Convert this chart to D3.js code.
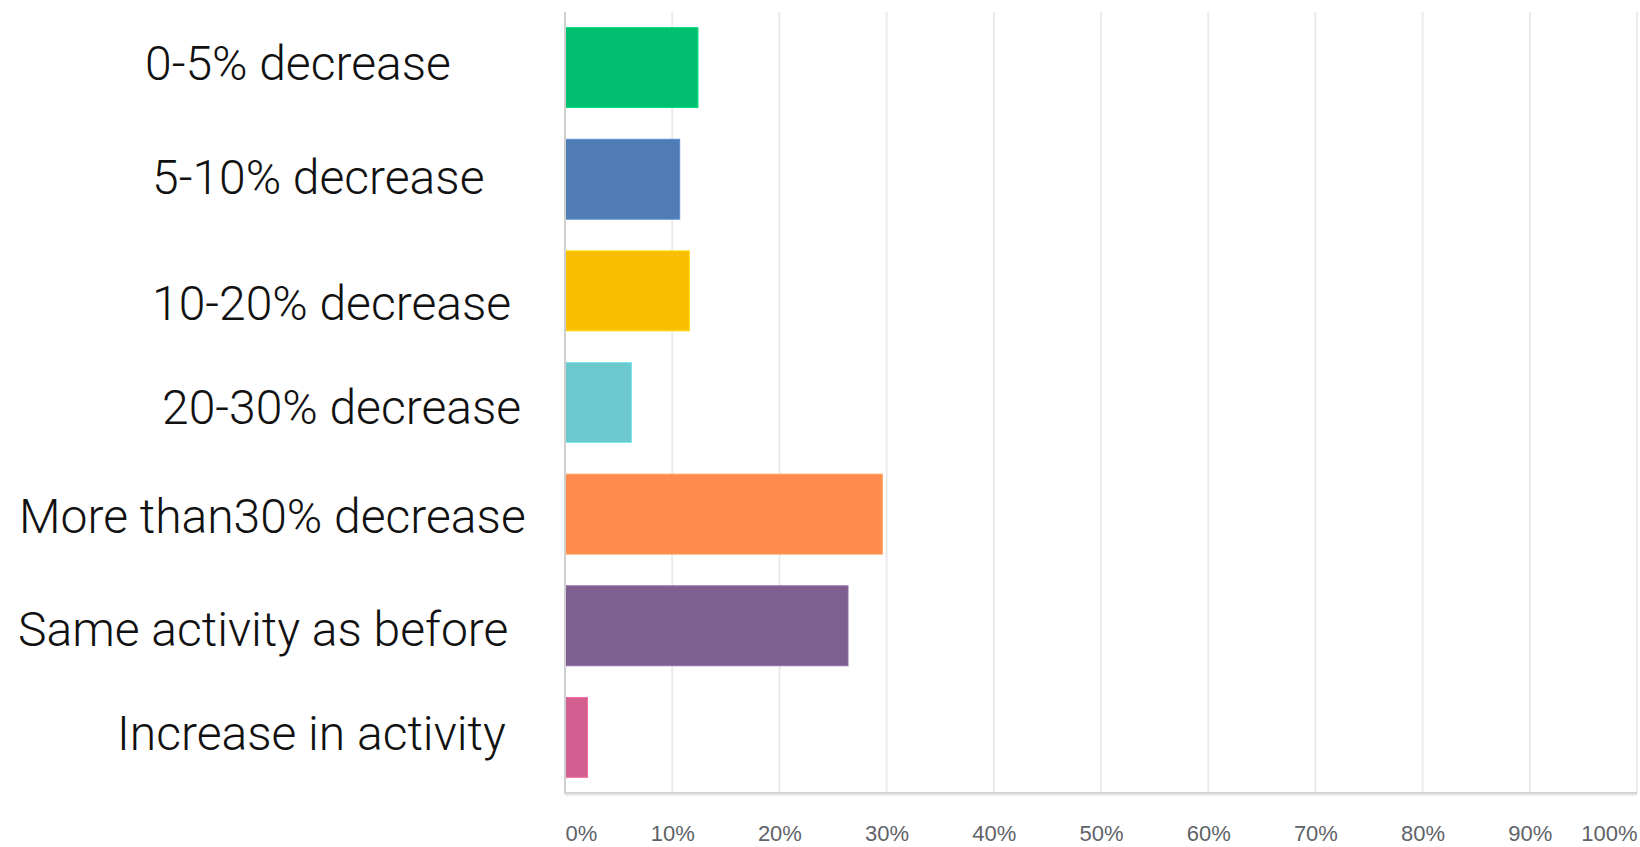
<!DOCTYPE html>
<html>
<head>
<meta charset="utf-8">
<script src="https://cdn.jsdelivr.net/npm/d3@7"></script>
<style>
  html, body { margin: 0; padding: 0; background: #fff; }
  .cat-label { font-family: Roboto, "Noto Sans", sans-serif; font-weight: 300; font-size: 48px; fill: #111; }
  .tick-label { font-family: "Liberation Sans", Arial, sans-serif; font-size: 22px; fill: #5f6368; }
</style>
</head>
<body>
<div id="chart"></div>
<script>
// answers, top to bottom
var categories = [
    "0-5% decrease",
    "5-10% decrease",
    "10-20% decrease",
    "20-30% decrease",
    "More than30% decrease",
    "Same activity as before",
    "Increase in activity"
];
// share of responses, in percent
var values = [12.4, 10.7, 11.6, 6.2, 29.6, 26.4, 2.1];
var barColors = ['#00bf6f', '#507cb6', '#f9be00', '#6bc8cd', '#ff8b4f', '#7f5f90', '#d25f90'];
var tickValues = [0, 10, 20, 30, 40, 50, 60, 70, 80, 90, 100];

// label placement, the labels in the picture are not lined up
var labelLeft = [145, 152, 152, 162, 19, 18, 117];
var labelDy = [12, 15, 29, 21, 19, 20, 13];

var width = 1640, height = 847;
var plotLeft = 565, plotRight = 1637, plotTop = 12, plotBottom = 793;

var svg = d3.select("#chart").append("svg")
    .attr("width", width)
    .attr("height", height);

var x = d3.scaleLinear().domain([0, 100]).range([plotLeft, plotRight]);
var y = d3.scaleBand().domain(categories).range([plotTop, plotBottom])
    .paddingInner(0.284).paddingOuter(0.14);

// grid lines
svg.append("g").selectAll("line")
    .data(tickValues.slice(1))
    .enter().append("line")
    .attr("x1", function(d) { return x(d); })
    .attr("x2", function(d) { return x(d); })
    .attr("y1", plotTop)
    .attr("y2", plotBottom)
    .style("stroke", "#ebebeb")
    .style("stroke-width", 2);

// bars
svg.append("g").selectAll("rect")
    .data(values)
    .enter().append("rect")
    .attr("x", x(0))
    .attr("y", function(d, i) { return y(categories[i]); })
    .attr("width", function(d) { return x(d) - x(0); })
    .attr("height", y.bandwidth())
    .style("fill", function(d, i) { return barColors[i]; })
    .style("stroke", function(d, i) { return d3.color(barColors[i]).brighter(0.4); })
    .style("stroke-width", 1);

// left axis line and bottom axis
svg.append("line")
    .attr("x1", plotLeft).attr("x2", plotLeft)
    .attr("y1", plotTop).attr("y2", plotBottom + 1)
    .style("stroke", "#cfcfcf").style("stroke-width", 2);
svg.append("line")
    .attr("x1", plotLeft).attr("x2", plotRight)
    .attr("y1", plotBottom + 2).attr("y2", plotBottom + 2)
    .style("stroke", "#ececec").style("stroke-width", 2);
svg.append("line")
    .attr("x1", plotLeft).attr("x2", plotRight)
    .attr("y1", plotBottom).attr("y2", plotBottom)
    .style("stroke", "#d4d4d4").style("stroke-width", 2);

var xAxis = d3.axisBottom(x).tickValues(tickValues)
    .tickFormat(function(d) { return d + "%"; })
    .tickSize(0);
var axisG = svg.append("g")
    .attr("transform", "translate(0," + plotBottom + ")")
    .call(xAxis);
axisG.select(".domain").remove();
axisG.selectAll("text")
    .attr("class", "tick-label")
    .attr("y", 48)
    .attr("dy", 0)
    .attr("text-anchor", function(d) { return d == 0 ? "start" : (d == 100 ? "end" : "middle"); });

// category labels
svg.append("g").selectAll("text")
    .data(categories)
    .enter().append("text")
    .attr("class", "cat-label")
    .attr("x", function(d, i) { return labelLeft[i]; })
    .attr("y", function(d, i) { return y(d) + y.bandwidth() / 2 + labelDy[i]; })
    .text(function(d) { return d; });
</script>
</body>
</html>
